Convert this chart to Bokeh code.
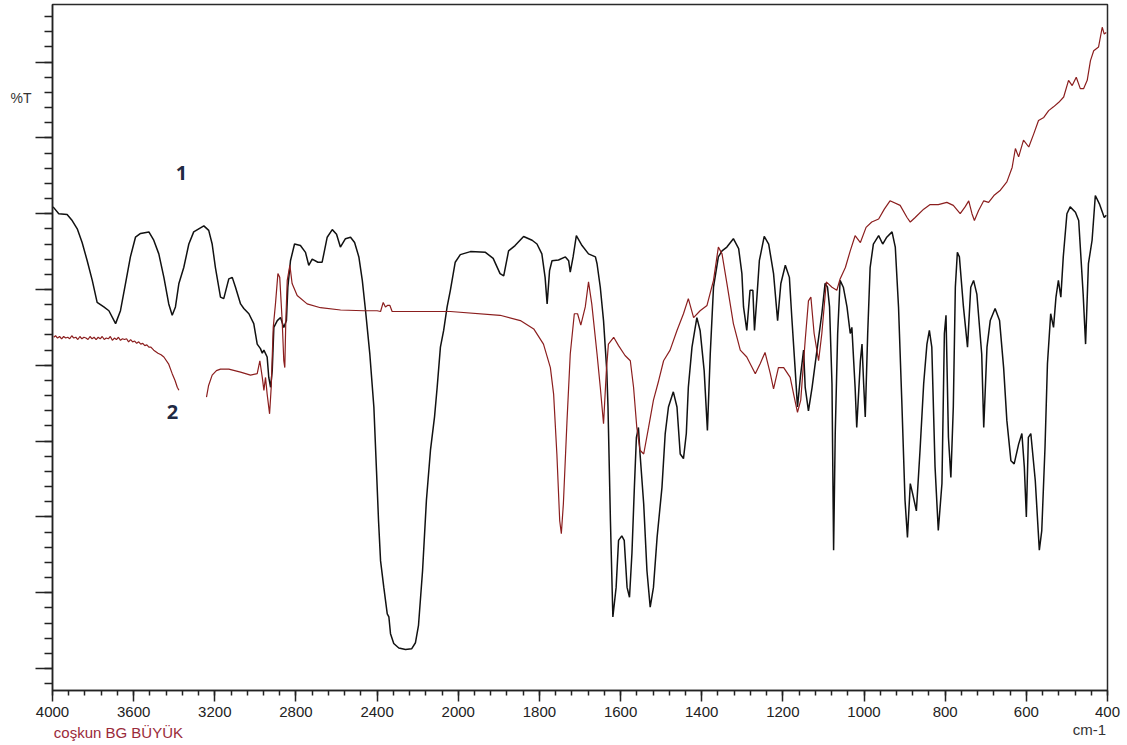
from bokeh.plotting import figure
from bokeh.models import (ColumnDataSource, FixedTicker, Range1d, Label, LinearAxis,
                          CustomJSTransform)
from bokeh.transform import transform
from bokeh.embed import file_html
from bokeh.resources import INLINE

# ---------------- data (wavenumber cm-1, %T in arbitrary units) ----------------
black_wn = [3997,3969,3928,3903,3878,3854,3829,3804,3780,3747,
            3722,3689,3665,3640,3616,3591,3566,3525,3501,3476,
            3451,3427,3410,3394,3377,3353,3328,3304,3254,3230,
            3213,3197,3172,3156,3131,3114,3098,3073,3057,3032,
            3008,2991,2975,2966,2958,2942,2934,2925,2917,2909,
            2892,2876,2860,2847,2840,2827,2807,2778,2753,2737,
            2720,2692,2671,2646,2621,2600,2581,2556,2531,2511,
            2490,2473,2457,2436,2416,2403,2393,2383,2367,2350,
            2342,2334,2318,2293,2260,2230,2211,2196,2176,2157,
            2137,2117,2104,2088,2072,2055,2039,2015,1995,1970,
            1933,1914,1897,1888,1876,1860,1839,1818,1806,1794,
            1786,1781,1775,1769,1753,1736,1728,1724,1717,1709,
            1695,1679,1662,1658,1650,1642,1634,1631,1625,1619,
            1611,1605,1597,1591,1584,1578,1572,1566,1561,1556,
            1552,1543,1535,1527,1519,1510,1498,1490,1482,1470,
            1461,1453,1445,1438,1433,1424,1412,1404,1394,1386,
            1379,1371,1359,1350,1338,1322,1309,1301,1297,1289,
            1281,1274,1270,1264,1258,1246,1235,1223,1213,1205,
            1194,1184,1178,1170,1164,1157,1149,1145,1137,1128,
            1116,1104,1096,1090,1085,1079,1075,1071,1065,1059,
            1051,1042,1034,1030,1022,1018,1009,1005,1001,997,
            991,985,977,964,954,944,931,923,915,907,
            899,893,886,880,871,862,853,845,839,833,
            825,817,808,802,798,792,786,780,775,770,
            765,755,745,737,730,722,710,705,697,689,
            677,666,656,648,638,630,619,611,605,600,
            595,589,578,568,562,554,548,540,533,527,
            521,515,509,500,492,479,471,460,454,447,
            438,430,420,408,403]
black_t = [60.9,60.0,59.9,59.1,58.0,56.2,53.8,51.2,48.3,47.7,
           47.2,45.5,47.2,50.8,54.3,56.9,57.4,57.6,56.5,54.7,
           51.6,48.1,46.6,47.7,50.8,52.9,56.0,57.6,58.4,57.8,
           56.0,52.9,49.0,48.8,51.4,51.6,50.3,48.1,47.5,46.8,
           45.5,42.8,42.2,41.6,42.0,41.1,38.4,37.1,39.3,45.0,
           45.9,46.3,45.0,45.9,50.3,53.8,56.0,55.8,54.9,53.2,
           54.0,53.6,53.6,56.9,57.9,57.3,55.6,56.7,56.9,56.2,
           54.3,51.2,47.2,41.5,34.5,26.1,19.5,14.2,10.7,7.2,
           6.8,4.6,3.3,2.7,2.5,2.6,3.4,5.7,12.9,22.2,
           28.8,33.2,37.1,42.4,44.6,47.7,49.9,53.6,54.6,55.0,
           54.9,54.1,52.1,51.8,55.1,55.8,57.0,56.5,56.0,54.7,
           51.6,48.1,52.5,53.8,53.9,54.3,53.8,52.3,54.3,57.1,
           55.8,54.7,54.3,53.4,50.3,45.9,39.3,34.5,19.5,6.8,
           10.7,16.9,17.5,16.9,10.7,9.4,15.2,23.9,30.5,31.8,
           28.3,21.7,12.9,8.1,10.7,17.3,23.9,31.0,34.5,36.5,
           34.5,28.3,27.7,31.0,37.1,42.4,46.3,44.6,39.3,31.4,
           41.5,50.3,54.3,55.1,55.6,56.7,55.4,52.1,47.7,44.6,
           49.9,49.9,44.6,49.0,53.8,57.0,56.0,52.1,45.9,50.8,
           53.2,51.6,46.3,39.7,34.5,38.4,42.0,37.1,34.0,37.1,
           42.0,46.8,50.8,50.3,47.7,37.6,15.6,31.0,44.2,51.2,
           50.3,47.7,44.2,45.0,37.1,31.8,40.6,42.8,37.6,33.2,
           44.2,52.9,56.0,57.1,56.0,56.9,57.6,55.6,47.7,35.4,
           22.2,17.3,24.4,23.0,20.8,28.8,37.6,42.8,44.6,42.4,
           26.6,18.2,24.4,44.2,46.6,30.5,25.2,34.5,50.3,54.9,
           54.3,47.7,42.4,50.3,51.2,49.4,41.5,31.8,42.4,45.9,
           47.5,45.9,39.7,32.7,27.4,27.0,29.6,31.0,26.6,20.0,
           30.5,31.0,24.8,15.6,18.2,29.2,40.2,46.8,45.0,49.0,
           51.2,49.0,54.3,60.0,60.9,60.2,59.1,49.4,42.8,53.4,
           56.5,62.4,61.3,59.5,59.8]

red1_wn = [3994,3985,3975,3965,3955,3945,3935,3925,3915,3905,
           3895,3885,3875,3865,3855,3845,3835,3825,3815,3805,
           3795,3785,3775,3765,3755,3745,3735,3725,3715,3705,
           3695,3685,3675,3665,3655,3645,3635,3625,3615,3605,
           3595,3585,3575,3565,3555,3545,3535,3525,3515,3501,
           3480,3465,3451,3428,3410,3396,3385,3377]
red1_t = [43.7,43.9,43.6,43.8,43.5,43.8,43.6,43.7,43.5,43.9,
          43.6,43.7,43.4,43.8,43.5,43.7,43.6,43.4,43.8,43.5,
          43.7,43.4,43.7,43.5,43.8,43.4,43.6,43.5,43.8,43.3,
          43.6,43.4,43.7,43.3,43.5,43.4,43.5,43.1,43.4,43.1,
          43.2,42.9,43.1,42.8,42.9,42.6,42.7,42.4,42.4,42.0,
          41.6,41.4,41.1,40.2,38.9,38.0,37.1,36.7]

red2_wn = [3241,3231,3213,3192,3172,3131,3073,3024,2991,2978,
           2966,2958,2950,2942,2930,2922,2912,2901,2889,2880,
           2868,2860,2855,2850,2843,2830,2819,2794,2745,2679,
           2580,2466,2400,2383,2370,2359,2349,2337,2326,2219,
           2039,1897,1847,1814,1790,1773,1765,1757,1750,1746,
           1741,1732,1724,1714,1706,1698,1687,1679,1671,1658,
           1650,1642,1635,1630,1617,1605,1589,1576,1568,1560,
           1552,1543,1531,1519,1506,1494,1478,1461,1445,1433,
           1420,1404,1387,1371,1359,1350,1338,1322,1305,1289,
           1268,1256,1244,1231,1223,1211,1198,1182,1172,1164,
           1156,1145,1137,1131,1123,1112,1104,1093,1079,1067,
           1059,1046,1034,1022,1009,995,981,964,950,936,
           911,894,886,874,853,837,817,796,780,763,
           751,742,734,728,718,705,693,680,664,648,
           635,627,619,607,594,582,570,557,545,533,
           520,508,496,487,477,467,459,450,442,434,
           422,413,408,403]
red2_t = [35.8,37.3,38.7,39.3,39.5,39.5,39.1,38.7,38.9,40.6,
          38.4,36.7,38.4,36.2,33.6,37.1,45.0,48.1,52.1,51.6,
          45.9,40.6,39.7,45.9,51.2,53.2,50.8,49.2,48.1,47.6,
          47.3,47.2,47.2,47.1,48.3,47.7,47.9,47.9,47.1,47.1,
          47.1,46.6,45.9,44.8,42.8,39.7,36.2,28.3,19.5,17.8,
          21.7,32.7,41.5,46.8,46.8,45.3,47.7,51.0,48.1,41.5,
          37.1,32.3,39.3,42.8,43.7,42.6,41.3,40.6,37.1,31.8,
          28.8,28.3,31.8,35.4,38.0,40.6,42.0,44.6,46.8,48.8,
          46.3,47.2,47.9,51.2,55.6,54.7,50.8,45.5,42.0,41.1,
          38.9,40.2,41.7,38.9,36.9,39.7,39.7,38.4,35.8,33.8,
          35.4,43.3,48.5,49.0,44.2,40.6,44.2,51.0,50.3,49.9,
          51.4,52.9,55.1,57.1,56.2,58.2,58.9,59.3,60.6,61.7,
          61.1,59.5,58.9,59.5,60.6,61.2,61.2,61.5,61.1,60.0,
          60.9,61.7,60.0,59.1,60.4,61.7,61.5,62.4,63.1,64.2,
          66.1,68.6,67.5,69.7,68.8,70.5,72.3,72.7,73.6,74.1,
          74.7,75.4,77.6,76.9,78.0,76.5,76.5,77.6,80.2,81.5,
          82.0,84.6,83.7,83.9]

x_tick_labels = [4000, 3600, 3200, 2800, 2400, 2000, 1800, 1600, 1400, 1200, 1000, 800, 600, 400]
y_major_ticks = [0, 10, 20, 30, 40, 50, 60, 70, 80]

# ---------------- axis scale: 4000-2000 compressed 2x vs 2000-400 ----------------
def to_u(w):
    return 4000 - w if w >= 2000 else 2000 + 2 * (2000 - w)

wn_tf = CustomJSTransform(v_func="""
const out = new Float64Array(xs.length);
for (let i = 0; i < xs.length; i++) {
  const w = xs[i];
  out[i] = w >= 2000 ? 4000 - w : 2000 + 2 * (2000 - w);
}
return out;
""")

p = figure(width=1127, height=745, x_range=Range1d(0, 5200), y_range=Range1d(-2.9, 87.6),
           output_backend="svg", toolbar_location=None,
           min_border_left=52, min_border_right=20, min_border_top=4, min_border_bottom=55)
p.background_fill_color = "white"
p.border_fill_color = "white"
p.grid.visible = False
p.outline_line_color = "#2a2a2a"
p.outline_line_width = 1.5

src_b = ColumnDataSource(dict(wn=black_wn, t=black_t))
src_r1 = ColumnDataSource(dict(wn=red1_wn, t=red1_t))
src_r2 = ColumnDataSource(dict(wn=red2_wn, t=red2_t))

p.line(x=transform("wn", wn_tf), y="t", source=src_b, line_color="#111111", line_width=1.5)
p.line(x=transform("wn", wn_tf), y="t", source=src_r1, line_color="#8B1E1E", line_width=1.2)
p.line(x=transform("wn", wn_tf), y="t", source=src_r2, line_color="#8B1E1E", line_width=1.2)

# x axis
xa = p.xaxis[0]
u_major = [to_u(w) for w in x_tick_labels]
xa.ticker = FixedTicker(ticks=u_major, minor_ticks=list(range(0, 5201, 80)))
xa.major_label_overrides = {u: str(w) for u, w in zip(u_major, x_tick_labels)}
xa.major_tick_out = 11
xa.major_tick_in = 0
xa.minor_tick_out = 5
xa.minor_tick_in = 0
xa.axis_line_color = "#222222"
xa.axis_line_width = 1.5
xa.major_tick_line_color = "#222222"
xa.minor_tick_line_color = "#222222"
xa.major_tick_line_width = 1.5
xa.minor_tick_line_width = 1.5
xa.major_label_text_font = "Liberation Sans"
xa.major_label_text_font_size = "15px"
xa.major_label_text_color = "#222222"
xa.major_label_standoff = 5

# y axis (ticks only)
ya = p.yaxis[0]
ya.ticker = FixedTicker(ticks=y_major_ticks, minor_ticks=list(range(-2, 87, 2)))
ya.major_label_overrides = {v: "" for v in y_major_ticks}
ya.major_tick_out = 17
ya.major_tick_in = 0
ya.minor_tick_out = 8
ya.minor_tick_in = 0
ya.axis_line_color = "#222222"
ya.axis_line_width = 1.5
ya.major_tick_line_color = "#222222"
ya.minor_tick_line_color = "#222222"
ya.major_tick_line_width = 1.5
ya.minor_tick_line_width = 1.5
ya.major_label_standoff = 0


def text_axis(ticks, labels, color, standoff, size="15px"):
    return LinearAxis(ticker=FixedTicker(ticks=ticks, minor_ticks=[]),
                      major_label_overrides=dict(zip(ticks, labels)),
                      axis_line_color=None, major_tick_line_color=None, minor_tick_line_color=None,
                      major_tick_in=0, major_tick_out=0, minor_tick_in=0, minor_tick_out=0,
                      major_label_standoff=standoff, major_label_text_font="Liberation Sans",
                      major_label_text_font_size=size, major_label_text_color=color)

# "%T" beside the y axis, "cm-1" and the author line under the x axis
p.add_layout(text_axis([75.3], ["%T"], "#333333", 4, "14px"), "left")
p.add_layout(text_axis([5111], ["cm-1"], "#333333", 1), "below")
p.add_layout(text_axis([325], ["coşkun BG BÜYÜK"], "#9A2A3A", -17), "below")

# texts inside the plot area
p.add_layout(Label(x=to_u(3364), y=65.4, text="1", text_font="Open Sans", text_font_style="bold",
                   text_font_size="20px", text_color="#1F2A44", text_align="center", text_baseline="middle"))
p.add_layout(Label(x=to_u(3409), y=33.8, text="2", text_font="Open Sans", text_font_style="bold",
                   text_font_size="20px", text_color="#1F2A44", text_align="center", text_baseline="middle"))

open("out.html", "w").write(file_html(p, INLINE))
